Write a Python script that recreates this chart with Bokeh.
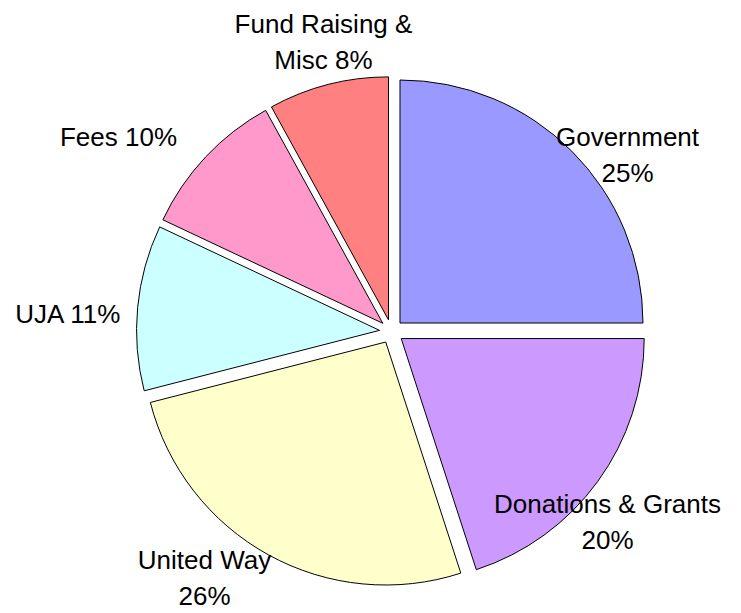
import math
from bokeh.plotting import figure
from bokeh.models import Range1d, ColumnDataSource
from bokeh.core.properties import value
from bokeh.embed import file_html
from bokeh.resources import INLINE

# ---- data ----
categories = ["Government", "Donations & Grants", "United Way", "UJA", "Fees", "Fund Raising &\nMisc"]
shares = [25, 20, 26, 11, 10, 8]
label_texts = ["Government\n25%", "Donations & Grants\n20%", "United Way\n26%", "UJA 11%", "Fees 10%", "Fund Raising &\nMisc 8%"]

# ---- styles ----
colors = ["#9999FF", "#CC99FF", "#FFFFCC", "#CCFFFF", "#FF99CC", "#FF8080"]
W, H = 741, 613
CX, CY = 391, H - 331
R = 243
EXPLODE = 12
# label anchor offsets from the pie centre (pixels, y up)
label_dx = [236, 216, -187, -323, -273, -68]
label_dy = [177, -190, -246, 18, 195, 290]

total = float(sum(shares))
starts, ends, xs, ys = [], [], [], []
cum = 0.0
for s in shares:
    a0 = 90 - 360 * cum / total
    cum += s
    a1 = 90 - 360 * cum / total
    mid = math.radians((a0 + a1) / 2)
    starts.append(a1)
    ends.append(a0)
    xs.append(CX + EXPLODE * math.cos(mid))
    ys.append(CY + EXPLODE * math.sin(mid))

src = ColumnDataSource(dict(x=xs, y=ys, start=starts, end=ends, color=colors, cat=categories))

p = figure(width=W, height=H, output_backend="svg", toolbar_location=None,
           x_range=Range1d(0, W), y_range=Range1d(0, H), min_border=0)
p.axis.visible = False
p.grid.visible = False
p.outline_line_color = None
p.background_fill_color = "white"
p.border_fill_color = "white"

p.wedge(x="x", y="y", radius=R, start_angle="start", end_angle="end",
        start_angle_units="deg", end_angle_units="deg",
        fill_color="color", line_color="black", line_width=1, source=src)

lsrc = ColumnDataSource(dict(x=[CX + d for d in label_dx], y=[CY + d for d in label_dy], text=label_texts))
p.text(x="x", y="y", text="text", source=lsrc, text_font=value("Liberation Sans"),
       text_font_size="26px", text_align="center", text_baseline="middle",
       text_line_height=1.2, text_color="black")

open("out.html", "w").write(file_html(p, INLINE))
